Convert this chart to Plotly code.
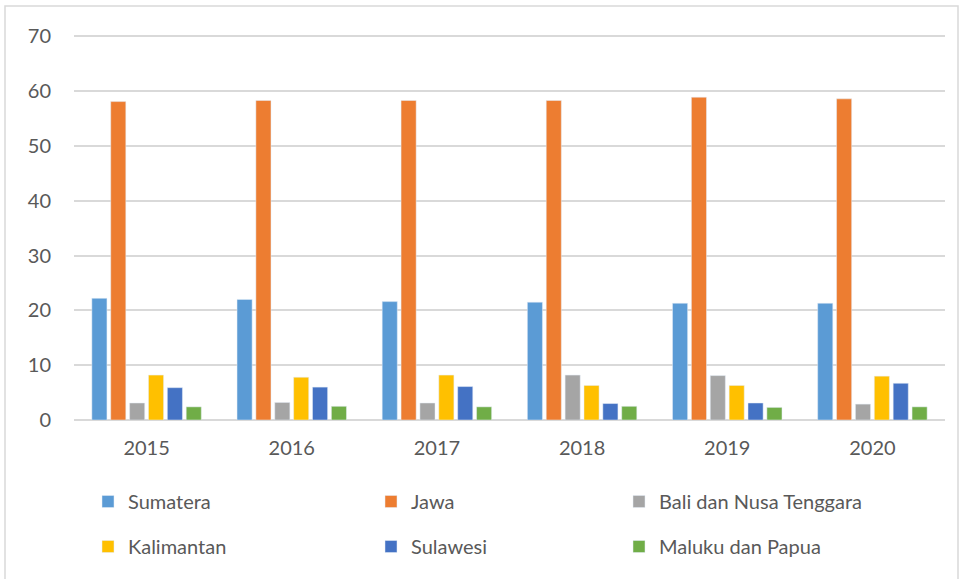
import plotly.graph_objects as go

years = ["2015", "2016", "2017", "2018", "2019", "2020"]

sumatera = [22.2, 22.0, 21.6, 21.5, 21.3, 21.3]
jawa = [58.1, 58.3, 58.3, 58.3, 58.9, 58.6]
bali_nusa_tenggara = [3.1, 3.2, 3.1, 8.2, 8.1, 2.9]
kalimantan = [8.2, 7.8, 8.2, 6.3, 6.3, 8.0]
sulawesi = [5.9, 6.0, 6.1, 3.0, 3.1, 6.7]
maluku_papua = [2.4, 2.5, 2.4, 2.5, 2.3, 2.4]

series = [
    ("Sumatera", sumatera, "#5B9BD5", "legend"),
    ("Jawa", jawa, "#ED7D31", "legend2"),
    ("Bali dan Nusa Tenggara", bali_nusa_tenggara, "#A5A5A5", "legend3"),
    ("Kalimantan", kalimantan, "#FFC000", "legend"),
    ("Sulawesi", sulawesi, "#4472C4", "legend2"),
    ("Maluku dan Papua", maluku_papua, "#70AD47", "legend3"),
]

FONT = "Lato, Open Sans, sans-serif"
GREY = "#595959"
FS = 20

fig = go.Figure()
for name, vals, color, leg in series:
    fig.add_trace(
        go.Bar(
            x=years,
            y=vals,
            name=name,
            marker_color=color,
            legend=leg,
            legendgroup=name,
        )
    )

# plot area in pixels: x 74..945, y 35..420
W, H = 961, 579
L, T = 74, 35
R = W - 945
B = H - 420
pw, ph = W - L - R, H - T - B


def px_x(p):
    return (p - L) / pw


def px_y(p):
    return (H - B - p) / ph


# legends keep 12px clear of the bottom edge so they don't push the margin
leg_common = dict(
    orientation="v",
    yanchor="bottom",
    xanchor="left",
    y=px_y(566),
    font=dict(family=FONT, size=FS, color=GREY),
    tracegroupgap=16,
    bgcolor="rgba(0,0,0,0)",
    itemclick=False,
)

fig.update_layout(
    width=W,
    height=H,
    margin=dict(l=L, r=R, t=T, b=B),
    paper_bgcolor="white",
    plot_bgcolor="white",
    barmode="group",
    bargap=0.22,
    bargroupgap=0.2,
    font=dict(family=FONT, size=FS, color=GREY),
    legend=dict(x=px_x(88), **leg_common),
    legend2=dict(x=px_x(371), **leg_common),
    legend3=dict(x=px_x(619), **leg_common),
    xaxis=dict(
        type="category",
        showgrid=False,
        showline=False,
        ticks="",
        ticklabelstandoff=14,
        tickfont=dict(family=FONT, size=FS, color=GREY),
    ),
    yaxis=dict(
        # a hair above 70 so the top gridline isn't clipped at the edge
        range=[0, 70.25],
        tickvals=[0, 10, 20, 30, 40, 50, 60, 70],
        showgrid=True,
        gridcolor="#D9D9D9",
        gridwidth=1.5,
        zeroline=True,
        zerolinecolor="#D9D9D9",
        zerolinewidth=1.5,
        showline=False,
        ticks="",
        ticklabelstandoff=22,
        tickfont=dict(family=FONT, size=FS, color=GREY),
    ),
    shapes=[
        dict(
            type="rect",
            xref="paper",
            yref="paper",
            x0=px_x(5),
            x1=px_x(958),
            y0=px_y(590),
            y1=px_y(6),
            line=dict(color="#D9D9D9", width=1.5),
            fillcolor="rgba(0,0,0,0)",
            layer="below",
        )
    ],
)

# drop the default page margin so the figure sits at the window's corner
fig.write_html(
    "out.html",
    config={"displayModeBar": False},
    post_script="document.body.style.margin='0';document.body.style.overflow='hidden';",
)
